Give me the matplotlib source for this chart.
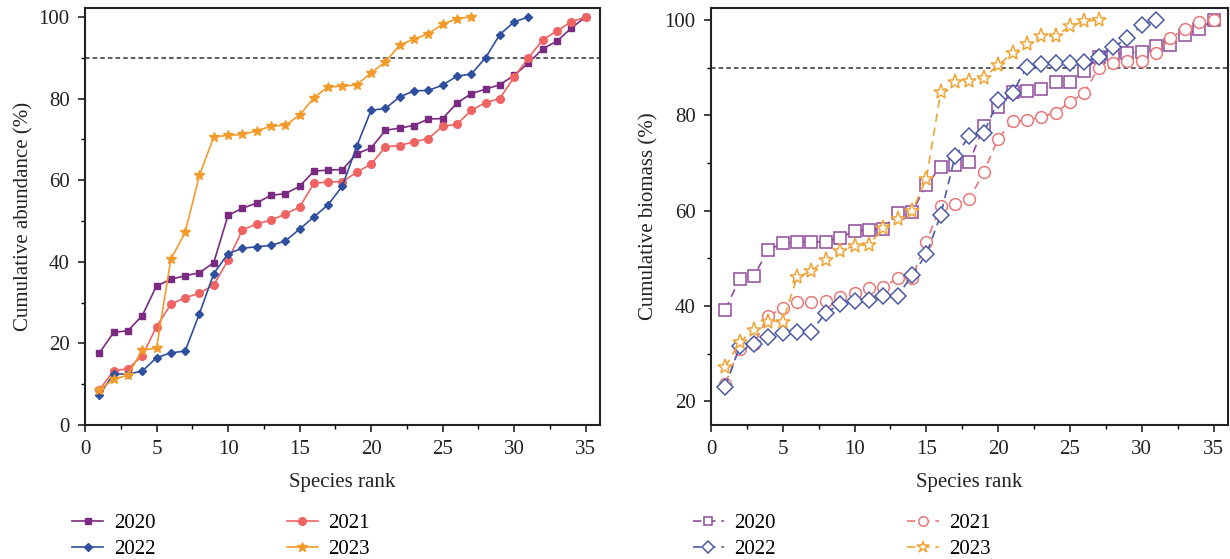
import matplotlib
matplotlib.use('Agg')
import matplotlib.pyplot as plt
from matplotlib.ticker import MultipleLocator

plt.rcParams['font.family'] = ['Liberation Serif', 'DejaVu Serif']

years = ['2020', '2021', '2022', '2023']

# 累计丰度 (左图)
abund_2020 = [17.6, 22.7, 23.1, 26.8, 34.1, 35.7, 36.6, 37.3, 39.8, 51.4, 53.1, 54.4,
              56.3, 56.7, 58.5, 62.2, 62.5, 62.6, 66.5, 67.9, 72.2, 72.8, 73.4, 75.0,
              75.1, 78.9, 81.2, 82.3, 83.4, 85.7, 88.7, 92.2, 94.1, 97.3, 100]
abund_2021 = [8.6, 13.3, 13.8, 16.9, 24.1, 29.6, 31.2, 32.3, 34.3, 40.4, 47.8, 49.3,
              50.2, 51.7, 53.4, 59.2, 59.6, 59.6, 62.0, 63.9, 68.2, 68.5, 69.4, 70.2,
              73.2, 73.7, 77.1, 79.0, 80.0, 85.3, 90.0, 94.4, 96.6, 98.8, 100]
abund_2022 = [7.3, 12.5, 12.5, 13.2, 16.5, 17.7, 18.1, 27.3, 37.1, 42.0, 43.3, 43.7,
              44.0, 45.1, 48.0, 51.0, 54.0, 58.6, 68.4, 77.1, 77.6, 80.4, 81.9, 82.0,
              83.3, 85.5, 86.0, 90.0, 95.7, 98.8, 100]
abund_2023 = [8.6, 11.2, 12.2, 18.4, 18.8, 40.6, 47.2, 61.2, 70.6, 71.0, 71.2, 72.1,
              73.2, 73.5, 75.9, 80.2, 82.9, 83.0, 83.4, 86.3, 89.0, 93.1, 94.6, 95.9,
              98.2, 99.6, 100]

# 累计生物量 (右图)
bio_2020 = [39.2, 45.7, 46.3, 51.8, 53.1, 53.4, 53.4, 53.5, 54.2, 55.8, 55.9, 56.2,
            59.4, 59.7, 65.3, 69.2, 69.5, 70.2, 77.7, 81.8, 84.8, 85.1, 85.6, 86.9,
            86.9, 89.2, 92.3, 92.8, 93.1, 93.3, 94.5, 94.7, 96.9, 98.1, 100]
bio_2021 = [23.7, 31.0, 32.0, 37.9, 39.5, 40.8, 40.8, 41.0, 41.9, 42.6, 43.7, 44.0,
            45.8, 45.9, 53.4, 61.0, 61.4, 62.4, 68.1, 75.1, 78.7, 78.9, 79.7, 80.5,
            82.8, 84.7, 90.0, 90.9, 91.4, 91.4, 93.0, 96.2, 98.0, 99.6, 100]
bio_2022 = [23.0, 31.5, 32.0, 33.5, 34.4, 34.6, 34.6, 38.6, 40.3, 41.0, 41.3, 42.1,
            42.1, 46.4, 50.8, 59.1, 71.4, 75.6, 76.3, 83.1, 84.7, 90.1, 90.8, 91.0,
            91.0, 91.2, 92.3, 94.3, 96.1, 98.9, 100]
bio_2023 = [27.2, 32.4, 35.0, 36.7, 36.7, 46.0, 47.4, 49.7, 51.5, 52.6, 52.8, 56.3,
            58.3, 59.8, 66.7, 84.8, 87.0, 87.2, 87.9, 90.5, 93.0, 94.9, 96.6, 96.6,
            98.7, 99.7, 100]

abund = [abund_2020, abund_2021, abund_2022, abund_2023]
bio = [bio_2020, bio_2021, bio_2022, bio_2023]

colors_l = ['#7a2a80', '#ef6363', '#2f4f9f', '#f39a2c']
colors_r = ['#8f4a9a', '#e87878', '#4b5ba8', '#f0a436']
markers = ['s', 'o', 'D', '*']
msize_l = [5, 5.5, 4.5, 7]
msize_r = [8, 8.5, 8, 11]

fig = plt.figure(figsize=(12.3, 5.59), dpi=100)
ax1 = fig.add_axes([0.0691, 0.2397, 0.4187, 0.746])
ax2 = fig.add_axes([0.578, 0.2397, 0.4203, 0.746])

for vals, c, m, ms, yr in zip(abund, colors_l, markers, msize_l, years):
    ax1.plot(range(1, len(vals) + 1), vals, color=c, lw=1.2, marker=m, ms=ms,
             mec=c, mfc=c, label=yr)

for vals, c, m, ms, yr in zip(bio, colors_r, markers, msize_r, years):
    ax2.plot(range(1, len(vals) + 1), vals, color=c, lw=1.2, ls=(0, (5, 3.5)),
             marker=m, ms=ms, mec=c, mfc='white', mew=1.1, label=yr)

for ax, bx, mscale in ((ax1, -0.025, 1.0), (ax2, -0.035, 0.8)):
    ax.axhline(90, color='#333333', lw=1.1, ls=(0, (3, 2)), zorder=0)
    ax.set_xlim(0, 36)
    ax.xaxis.set_major_locator(MultipleLocator(5))
    ax.xaxis.set_minor_locator(MultipleLocator(2.5))
    ax.yaxis.set_major_locator(MultipleLocator(20))
    ax.yaxis.set_minor_locator(MultipleLocator(10))
    ax.tick_params(which='major', direction='out', length=5, width=1.2,
                   labelsize=15, colors='#222222', pad=6)
    ax.tick_params(which='minor', direction='out', length=3, width=1.0)
    for sp in ax.spines.values():
        sp.set_linewidth(1.5)
        sp.set_color('#222222')
    ax.set_xlabel('Species rank', fontsize=15, color='#222222', labelpad=10)
    # 图例顺序: 第一行 2020 2021, 第二行 2022 2023
    h, l = ax.get_legend_handles_labels()
    order = [0, 2, 1, 3]
    ax.legend([h[i] for i in order], [l[i] for i in order], loc='upper left',
              bbox_to_anchor=(bx, -0.212), ncol=2, frameon=False, fontsize=15,
              columnspacing=6.3, handlelength=1.5, handletextpad=0.5,
              labelspacing=0.3, borderpad=0, borderaxespad=0, markerscale=mscale)

ax1.set_ylim(0, 102.2)
ax2.set_ylim(15, 102.5)
ax1.set_ylabel('Cumulative abundance (%)', fontsize=15, color='#222222')
ax2.set_ylabel('Cumulative biomass (%)', fontsize=15, color='#222222')

fig.savefig('out.png', dpi=100)
